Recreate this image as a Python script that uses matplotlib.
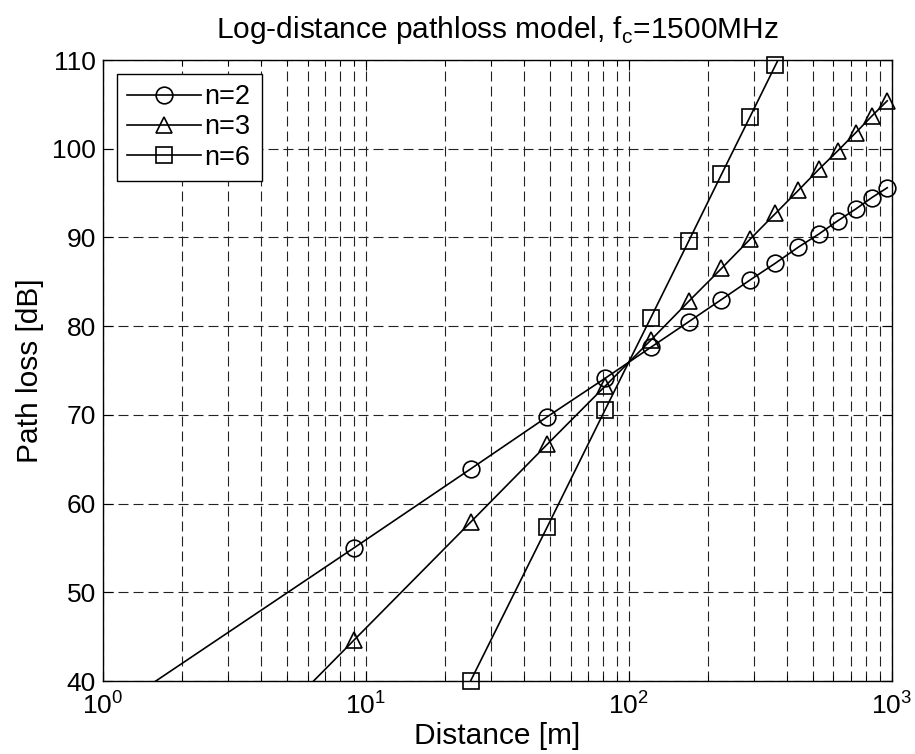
"""Log-distance pathloss model figure (fc = 1500 MHz)."""
import numpy as np
import matplotlib
matplotlib.use("Agg")
import matplotlib.pyplot as plt
from matplotlib.ticker import LogLocator, NullFormatter, MultipleLocator

plt.rcParams["font.family"] = ["Liberation Sans", "DejaVu Sans"]
plt.rcParams["mathtext.fontset"] = "custom"
plt.rcParams["mathtext.rm"] = "Liberation Sans"

# distances where the curves are sampled [m]
distance = [1, 9, 25, 49, 81, 121, 169, 225, 289, 361, 441, 529, 625, 729, 841, 961]
# path loss [dB]
pl_n2 = [36.0, 55.0, 63.9, 69.8, 74.1, 77.6, 80.5, 83.0, 85.2, 87.1, 88.9, 90.4, 91.9, 93.2, 94.5, 95.6]
pl_n3 = [16.0, 44.6, 57.9, 66.7, 73.2, 78.4, 82.8, 86.5, 89.8, 92.7, 95.3, 97.7, 99.8, 101.8, 103.7, 105.4]
pl_n6 = [-4.0, 13.2, 40.0, 57.4, 70.5, 80.9, 89.6, 97.1, 103.6, 109.4, 114.6, 119.4, 123.7, 127.7, 131.4, 134.9]
labels = ["n=2", "n=3", "n=6"]
markers = ["o", "^", "s"]

fig = plt.figure(figsize=(9.15, 7.54), dpi=100)
ax = fig.add_axes([0.1126, 0.0968, 0.862, 0.8236])

YMIN, YMAX = 40, 110
LW = 1.2
MS = 12
d = np.array(distance)
for y, lab, mk in zip([pl_n2, pl_n3, pl_n6], labels, markers):
    y = np.array(y)
    ax.plot(d, y, "-", color="k", lw=LW)
    # markers only where the point is inside the y-range (drawn unclipped)
    m = (y >= YMIN - 0.5) & (y <= YMAX + 0.5)
    ax.plot(d[m], y[m], mk, color="k", mfc="none", mew=LW, ms=MS, clip_on=False, zorder=3)
    ax.plot([], [], "-", color="k", lw=LW, marker=mk, mfc="none", mew=LW, ms=MS, label=lab)

ax.set_xscale("log")
ax.set_xlim(1, 1000)
ax.set_ylim(YMIN, YMAX)
ax.yaxis.set_major_locator(MultipleLocator(10))
ax.xaxis.set_minor_locator(LogLocator(base=10, subs=np.arange(2, 10)))
ax.xaxis.set_minor_formatter(NullFormatter())

dash = (0, (9, 4.5))
ax.grid(True, which="major", color="#222222", ls=dash, lw=0.8)
ax.grid(True, which="minor", axis="x", color="#222222", ls=dash, lw=0.8)
ax.tick_params(which="both", direction="in", top=True, right=True, labelsize=19)
ax.tick_params(axis="x", which="both", pad=8)
ax.tick_params(axis="y", pad=5)
ax.tick_params(which="major", length=7)
ax.tick_params(which="minor", length=4)
for s in ax.spines.values():
    s.set_linewidth(1.0)

ax.set_xlabel("Distance [m]", fontsize=21.5, labelpad=2)
ax.set_ylabel("Path loss [dB]", fontsize=21.5, labelpad=6)
ax.set_title("Log-distance pathloss model, f$_\\mathregular{c}$=1500MHz", fontsize=21.5, pad=16)

leg = ax.legend(loc="upper left", fontsize=19.5, fancybox=False, edgecolor="k",
                framealpha=1, handlelength=2.7, handletextpad=0.15,
                labelspacing=0.15, borderaxespad=0.5, borderpad=0.4)
leg.get_frame().set_linewidth(1.0)

fig.savefig("out.png", dpi=100)
